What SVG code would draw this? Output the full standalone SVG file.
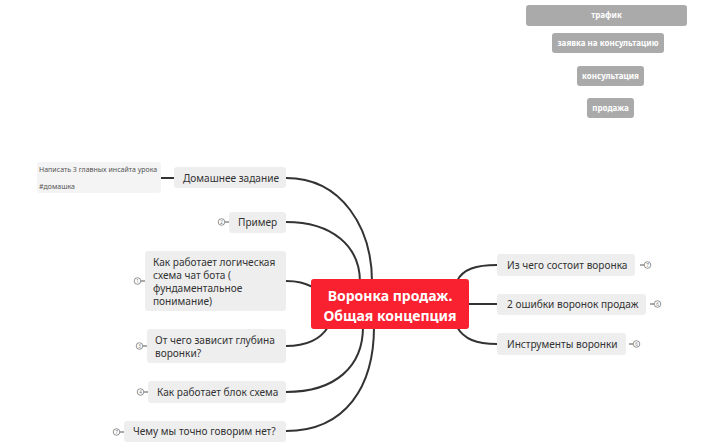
<svg xmlns="http://www.w3.org/2000/svg" width="724" height="448" viewBox="0 0 724 448">
<style>
text{font-family:"Noto Sans","Open Sans","DejaVu Sans",sans-serif;}
.n{fill:#eeeeee;}
.t{font-size:10.1px;fill:#333333;}
.f{fill:#aaaaaa;}
.ft{font-size:8px;font-weight:bold;fill:#ffffff;text-anchor:middle;}
.c{fill:none;stroke:#333333;stroke-width:2;stroke-linecap:round;}
.ic{fill:#ffffff;stroke:#777777;stroke-width:0.8;}
.it{font-size:4.5px;fill:#777777;text-anchor:middle;}
.id{stroke:#555555;stroke-width:1;}
</style>
<rect width="724" height="448" fill="#ffffff"/>
<g id="connectors">
<path class="c" d="M286,178 C342,178 372,228 372,282"/>
<path class="c" d="M286,222 C332,222 360,246 360,282"/>
<path class="c" d="M286,281 C298,281 304,283 313,287"/>
<path class="c" d="M286,346 C306,346 320,340 328,327"/>
<path class="c" d="M286,392 C336,392 363,366 363,327"/>
<path class="c" d="M286,431 C346,431 374,386 374,327"/>
<path class="c" d="M457,281 C463,269 476,265 497,265"/>
<path class="c" d="M468,304 L497,304"/>
<path class="c" d="M457,327 C464,339 476,344 497,344"/>
<path class="c" d="M161,178 L174,178"/>
</g>
<g id="funnel-1"><rect class="f" x="526" y="5" width="161" height="21" rx="3"/><text class="ft" x="606.5" y="18.3">трафик</text></g>
<g id="funnel-2"><rect class="f" x="552" y="33" width="112" height="20" rx="3"/><text class="ft" x="608" y="45.8">заявка на консультацию</text></g>
<g id="funnel-3"><rect class="f" x="577" y="66" width="67" height="20" rx="3"/><text class="ft" x="610.5" y="78.8">консультация</text></g>
<g id="funnel-4"><rect class="f" x="587" y="98" width="47" height="20" rx="3"/><text class="ft" x="610.5" y="110.8">продажа</text></g>
<g id="center"><rect x="311" y="279" width="158" height="50" rx="3" fill="#f9202f"/>
<text x="390" y="301" font-size="14" font-weight="bold" fill="#ffffff" text-anchor="middle">Воронка продаж.</text>
<text x="390" y="321" font-size="14" font-weight="bold" fill="#ffffff" text-anchor="middle">Общая концепция</text></g>
<g id="note"><rect x="37" y="162" width="124" height="31" rx="3" fill="#f4f4f4"/>
<text x="39" y="172" font-size="7" fill="#555555">Написать 3 главных инсайта урока</text>
<text x="39" y="189" font-size="7" fill="#555555">#домашка</text></g>
<g id="homework"><rect class="n" x="174" y="167" width="112" height="21" rx="3"/><text class="t" x="183" y="181.5">Домашнее задание</text></g>
<g id="example"><rect class="n" x="229" y="212" width="57" height="21" rx="3"/><text class="t" x="238" y="226.3">Пример</text>
<line class="id" x1="225" y1="222" x2="229" y2="222"/><circle class="ic" cx="221.5" cy="222" r="3.3"/><text class="it" x="221.5" y="223.6">2</text></g>
<g id="logic"><rect class="n" x="145" y="251" width="141" height="60" rx="3"/>
<text class="t" x="153" y="265.5">Как работает логическая</text>
<text class="t" x="153" y="278.5">схема чат бота (</text>
<text class="t" x="153" y="291.5">фундаментальное</text>
<text class="t" x="153" y="304.5">понимание)</text>
<line class="id" x1="141" y1="281" x2="145" y2="281"/><circle class="ic" cx="137.5" cy="281" r="3.3"/><text class="it" x="137.5" y="282.6">1</text></g>
<g id="depth"><rect class="n" x="147" y="329" width="139" height="34" rx="3"/>
<text class="t" x="155" y="343.5">От чего зависит глубина</text>
<text class="t" x="155" y="356.5">воронки?</text>
<line class="id" x1="143" y1="346" x2="147" y2="346"/><circle class="ic" cx="139.5" cy="346" r="3.3"/><text class="it" x="139.5" y="347.6">3</text></g>
<g id="block"><rect class="n" x="148" y="381" width="138" height="22" rx="3"/>
<text class="t" x="157" y="395.5">Как работает блок схема</text>
<line class="id" x1="144" y1="392" x2="148" y2="392"/><circle class="ic" cx="140.5" cy="392" r="3.3"/><text class="it" x="140.5" y="393.6">4</text></g>
<g id="no"><rect class="n" x="124" y="421" width="162" height="21" rx="3"/>
<text class="t" x="133" y="435.3">Чему мы точно говорим нет?</text>
<line class="id" x1="120" y1="432" x2="124" y2="432"/><circle class="ic" cx="116.5" cy="432" r="3.3"/><text class="it" x="116.5" y="433.6">7</text></g>
<g id="consists"><rect class="n" x="497" y="254" width="138" height="22" rx="3"/>
<text class="t" x="507" y="268.5">Из чего состоит воронка</text>
<line class="id" x1="640" y1="265" x2="644" y2="265"/><circle class="ic" cx="647.5" cy="265" r="3.3"/><text class="it" x="647.5" y="266.6">7</text></g>
<g id="errors"><rect class="n" x="497" y="294" width="149" height="21" rx="3"/>
<text class="t" x="507" y="308.3">2 ошибки воронок продаж</text>
<line class="id" x1="650" y1="304" x2="654" y2="304"/><circle class="ic" cx="657.5" cy="304" r="3.3"/><text class="it" x="657.5" y="305.6">6</text></g>
<g id="tools"><rect class="n" x="497" y="333" width="129" height="22" rx="3"/>
<text class="t" x="507" y="347.5">Инструменты воронки</text>
<line class="id" x1="629" y1="344" x2="633" y2="344"/><circle class="ic" cx="636.5" cy="344" r="3.3"/><text class="it" x="636.5" y="345.6">6</text></g>
</svg>
